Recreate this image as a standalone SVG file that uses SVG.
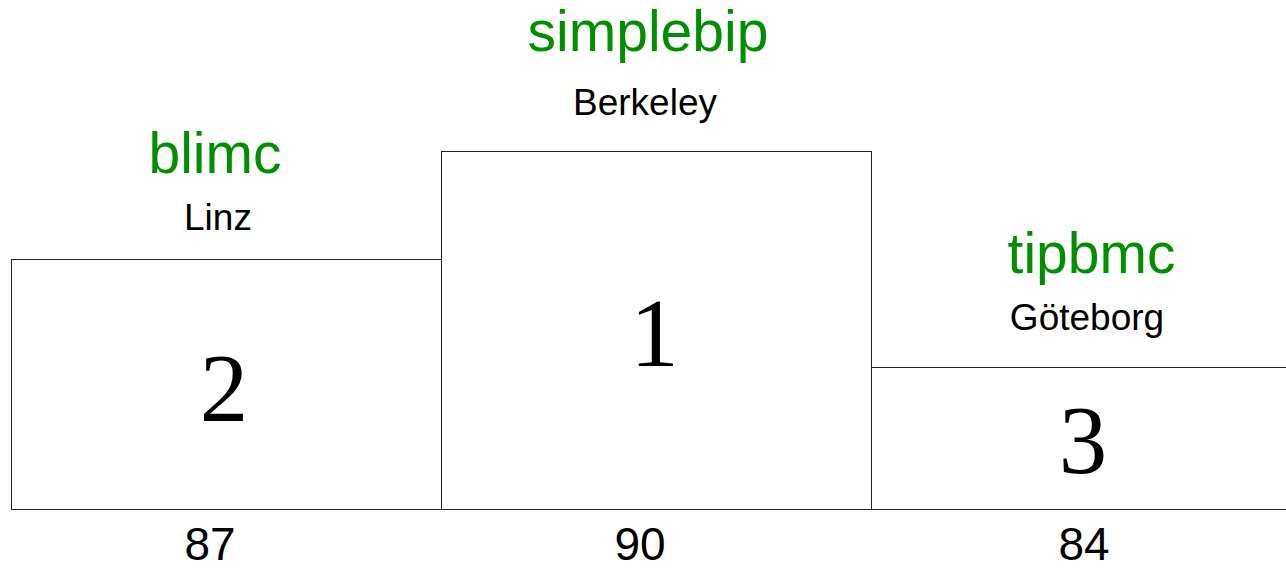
<svg xmlns="http://www.w3.org/2000/svg" width="1286" height="569" viewBox="0 0 1286 569">
<style>
.box{fill:#fff;stroke:#222;stroke-width:1}
.name{font-family:"Liberation Sans",Arial,sans-serif;font-size:57px;fill:#008f00;text-anchor:middle}
.city{font-family:"Liberation Sans",Arial,sans-serif;font-size:37px;fill:#000;text-anchor:middle}
.rank{font-family:"Liberation Serif","Times New Roman",serif;font-size:97px;fill:#000;text-anchor:middle}
.score{font-family:"Liberation Sans",Arial,sans-serif;font-size:46px;fill:#000;text-anchor:middle}
</style>
<rect width="1286" height="569" fill="#fff"/>
<g id="second">
<rect class="box" x="11.5" y="259.5" width="430" height="250"/>
<text class="name" x="215" y="173">blimc</text>
<text class="city" x="218" y="230">Linz</text>
<text class="rank" x="224" y="421">2</text>
<text class="score" x="210" y="560">87</text>
</g>
<g id="first">
<rect class="box" x="441.5" y="151.5" width="430" height="358"/>
<text class="name" x="648" y="51">simplebip</text>
<text class="city" x="645" y="115">Berkeley</text>
<text class="rank" x="654.5" y="366">1</text>
<text class="score" x="640" y="560">90</text>
</g>
<g id="third">
<rect class="box" x="871.5" y="367.5" width="430" height="142"/>
<text class="name" x="1091.5" y="273">tipbmc</text>
<text class="city" x="1087" y="330">Göteborg</text>
<text class="rank" x="1083" y="473">3</text>
<text class="score" x="1084" y="560">84</text>
</g>
<g id="connectors"></g>
</svg>
